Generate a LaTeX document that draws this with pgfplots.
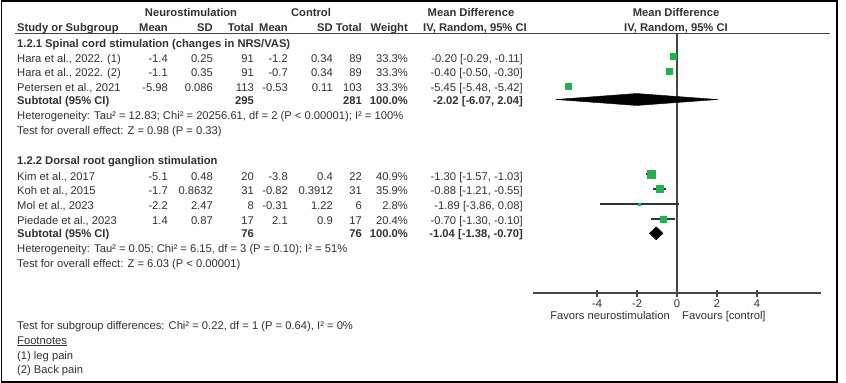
\documentclass[border=0pt]{standalone}
\usepackage{pgfplots}
\pgfplotsset{compat=1.18}
\usepackage{fontspec}
\setmainfont{Liberation Sans}
\definecolor{txt}{RGB}{50,50,50}
\definecolor{ln}{RGB}{70,70,70}
\definecolor{sq}{RGB}{34,177,76}
\newcommand\tf{\fontsize{11.2bp}{13bp}\selectfont}
\tikzset{t/.style={font=\tf, text=txt, inner sep=0pt}}
% yb, name, m1, sd1, n1, m2, sd2, n2, weight
\newcommand\drow[9]{%
 \node[t,anchor=base west] at (17bp,-#1bp) {#2};
 \node[t,anchor=base east] at (168bp,-#1bp) {#3};
 \node[t,anchor=base east] at (213bp,-#1bp) {#4};
 \node[t,anchor=base east] at (254bp,-#1bp) {#5};
 \node[t,anchor=base east] at (288bp,-#1bp) {#6};
 \node[t,anchor=base east] at (333bp,-#1bp) {#7};
 \node[t,anchor=base east] at (362bp,-#1bp) {#8};
 \node[t,anchor=base east] at (408bp,-#1bp) {#9};
}
\newcommand\ci[2]{\node[t,anchor=base east] at (523bp,-#1bp) {#2};}
\begin{document}
\begin{tikzpicture}
\useasboundingbox (0,0) rectangle (846bp,-383bp);
\fill[white] (0,0) rectangle (846bp,-383bp);
\draw[black, line width=1.5bp] (1.5bp,-1bp) rectangle (837bp,-382bp);
% header
\begin{scope}[t/.style={font=\tf\bfseries, text=txt, inner sep=0pt}]
\node[t,anchor=base] at (191bp,-16bp) {Neurostimulation};
\node[t,anchor=base] at (311bp,-16bp) {Control};
\node[t,anchor=base] at (471bp,-16bp) {Mean Difference};
\node[t,anchor=base] at (676bp,-16bp) {Mean Difference};
\drow{31}{Study or Subgroup}{Mean}{SD}{Total}{Mean}{SD}{Total}{Weight}
\node[t,anchor=base] at (475bp,-31bp) {IV, Random, 95\% CI};
\node[t,anchor=base] at (676bp,-31bp) {IV, Random, 95\% CI};
\node[t,anchor=base west] at (17bp,-47bp) {1.2.1 Spinal cord stimulation (changes in NRS/VAS)};
\drow{104}{Subtotal (95\% CI)}{}{}{295}{}{}{281}{100.0\%}
\ci{104}{-2.02 [-6.07, 2.04]}
\node[t,anchor=base west] at (17bp,-164bp) {1.2.2 Dorsal root ganglion stimulation};
\drow{237.5}{Subtotal (95\% CI)}{}{}{76}{}{}{76}{100.0\%}
\ci{237.5}{-1.04 [-1.38, -0.70]}
\end{scope}
\draw[ln, line width=1.5bp] (15bp,-33.5bp) -- (830bp,-33.5bp);
% group 1
\drow{62}{Hara et al., 2022. (1)}{-1.4}{0.25}{91}{-1.2}{0.34}{89}{33.3\%}
\ci{62}{-0.20 [-0.29, -0.11]}
\drow{76.5}{Hara et al., 2022. (2)}{-1.1}{0.35}{91}{-0.7}{0.34}{89}{33.3\%}
\ci{76.5}{-0.40 [-0.50, -0.30]}
\drow{91}{Petersen et al., 2021}{-5.98}{0.086}{113}{-0.53}{0.11}{103}{33.3\%}
\ci{91}{-5.45 [-5.48, -5.42]}
\node[t,anchor=base west] at (17bp,-119bp) {Heterogeneity: Tau² = 12.83; Chi² = 20256.61, df = 2 (P < 0.00001); I² = 100\%};
\node[t,anchor=base west] at (17bp,-134bp) {Test for overall effect: Z = 0.98 (P = 0.33)};
% group 2
\drow{180}{Kim et al., 2017}{-5.1}{0.48}{20}{-3.8}{0.4}{22}{40.9\%}
\ci{180}{-1.30 [-1.57, -1.03]}
\drow{194.5}{Koh et al., 2015}{-1.7}{0.8632}{31}{-0.82}{0.3912}{31}{35.9\%}
\ci{194.5}{-0.88 [-1.21, -0.55]}
\drow{209}{Mol et al., 2023}{-2.2}{2.47}{8}{-0.31}{1.22}{6}{2.8\%}
\ci{209}{-1.89 [-3.86, 0.08]}
\drow{224}{Piedade et al., 2023}{1.4}{0.87}{17}{2.1}{0.9}{17}{20.4\%}
\ci{224}{-0.70 [-1.30, -0.10]}
\node[t,anchor=base west] at (17bp,-252bp) {Heterogeneity: Tau² = 0.05; Chi² = 6.15, df = 3 (P = 0.10); I² = 51\%};
\node[t,anchor=base west] at (17bp,-267.5bp) {Test for overall effect: Z = 6.03 (P < 0.00001)};
% bottom
\node[t,anchor=base west] at (17bp,-329bp) {Test for subgroup differences: Chi² = 0.22, df = 1 (P = 0.64), I² = 0\%};
\node[t,anchor=base west] at (17bp,-344bp) {\underline{Footnotes}};
\node[t,anchor=base west] at (17bp,-359bp) {(1) leg pain};
\node[t,anchor=base west] at (17bp,-373bp) {(2) Back pain};
\node[t,anchor=base east] at (670bp,-319bp) {Favors neurostimulation};
\node[t,anchor=base west] at (682bp,-319bp) {Favours [control]};
% forest plot
\begin{axis}[at={(533bp,-293bp)}, anchor=south west,
  width=288bp, height=260bp, scale only axis,
  xmin=-7.2, xmax=7.2, ymin=-293, ymax=-33,
  axis x line=bottom, axis y line=none,
  x axis line style={-, draw=ln, line width=1.4bp},
  xtick={-4,-2,0,2,4}, xticklabels={-4,-2,0,2,4},
  tick align=center, major tick length=7bp,
  every tick/.style={draw=ln, line width=1.2bp},
  xticklabel style={font=\tf, text=txt},
  clip=false]
\addplot[ln, line width=1.4bp] coordinates {(0,-33) (0,-293)};
% confidence intervals
\addplot[black!80, line width=1.2bp] coordinates {(-0.29,-56) (-0.11,-56)};
\addplot[black!80, line width=1.2bp] coordinates {(-0.50,-71) (-0.30,-71)};
\addplot[black!80, line width=1.2bp] coordinates {(-5.48,-86) (-5.42,-86)};
\addplot[black!80, line width=1.2bp] coordinates {(-1.57,-174) (-1.03,-174)};
\addplot[black!80, line width=1.2bp] coordinates {(-1.21,-189) (-0.55,-189)};
\addplot[black!80, line width=1.2bp] coordinates {(-3.86,-204) (0.08,-204)};
\addplot[black!80, line width=1.2bp] coordinates {(-1.30,-219) (-0.10,-219)};
% study squares
\addplot[only marks, mark=square*, mark size=3.3bp, mark options={fill=sq, draw=sq}] coordinates {(-0.20,-56)};
\addplot[only marks, mark=square*, mark size=3.1bp, mark options={fill=sq, draw=sq}] coordinates {(-0.40,-71)};
\addplot[only marks, mark=square*, mark size=3.1bp, mark options={fill=sq, draw=sq}] coordinates {(-5.45,-86)};
\addplot[only marks, mark=square*, mark size=3.8bp, mark options={fill=sq, draw=sq}] coordinates {(-1.30,-174)};
\addplot[only marks, mark=square*, mark size=3.6bp, mark options={fill=sq, draw=sq}] coordinates {(-0.88,-189)};
\addplot[only marks, mark=square*, mark size=0.8bp, mark options={fill=sq, draw=sq}] coordinates {(-1.89,-204)};
\addplot[only marks, mark=square*, mark size=2.7bp, mark options={fill=sq, draw=sq}] coordinates {(-0.70,-219)};
% subtotal diamonds
\addplot[fill=black, draw=black] coordinates {(-6.07,-99.5) (-2.02,-93.5) (2.04,-99.5) (-2.02,-105.5) (-6.07,-99.5)};
\addplot[fill=black, draw=black] coordinates {(-1.38,-233.3) (-1.04,-226.8) (-0.70,-233.3) (-1.04,-239.8) (-1.38,-233.3)};
\end{axis}
\end{tikzpicture}
\end{document}
